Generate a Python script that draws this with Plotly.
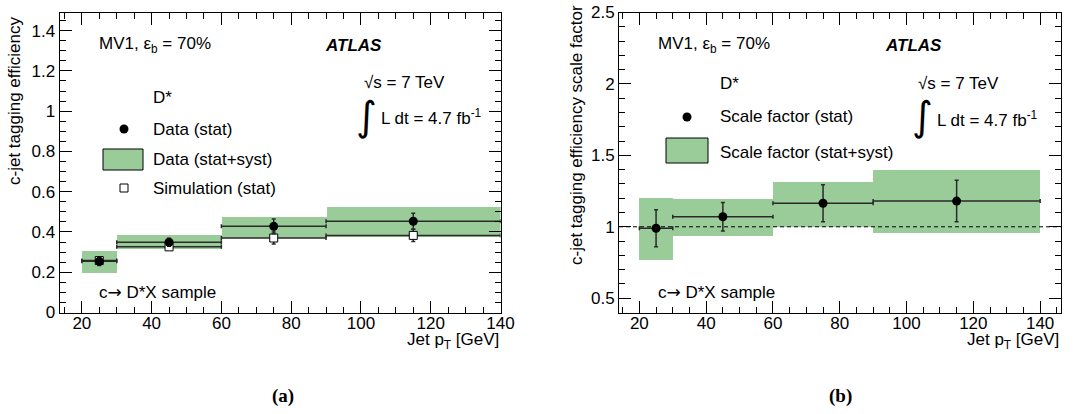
import plotly.graph_objects as go

# bin edges (jet pT, GeV)
bin_lo = [20, 30, 60, 90]
bin_hi = [30, 60, 90, 140]

# (a) c-jet tagging efficiency
eff_data = [0.254, 0.349, 0.428, 0.453]
eff_data_stat = [0.020, 0.020, 0.037, 0.040]
eff_data_tot_lo = [0.200, 0.317, 0.375, 0.378]
eff_data_tot_hi = [0.307, 0.387, 0.478, 0.528]
eff_mc = [0.258, 0.326, 0.370, 0.383]
eff_mc_stat = [0.010, 0.010, 0.030, 0.030]

# (b) scale factor
sf = [0.990, 1.070, 1.165, 1.180]
sf_stat = [0.130, 0.100, 0.130, 0.145]
sf_tot_lo = [0.774, 0.937, 1.003, 0.958]
sf_tot_hi = [1.206, 1.196, 1.320, 1.400]

W, H = 1086, 414
GREEN = "#99cc99"
ERRC = "#2a2a2a"
FONT = "Liberation Sans"
ARROW = "c<span style='font-family:DejaVu Sans'>→</span> D*X sample"


def fx(p):
    return p / W


def fy(p):
    return 1 - p / H


centre = [(a + b) / 2 for a, b in zip(bin_lo, bin_hi)]
width = [b - a for a, b in zip(bin_lo, bin_hi)]
half = [w / 2 for w in width]

fig = go.Figure()

# --- panel (a)
fig.add_trace(go.Bar(
    x=centre, width=width, base=eff_data_tot_lo,
    y=[h - l for h, l in zip(eff_data_tot_hi, eff_data_tot_lo)],
    marker=dict(color=GREEN, line=dict(width=0)),
    xaxis="x", yaxis="y", showlegend=False, hoverinfo="skip"))
fig.add_trace(go.Scatter(
    x=centre, y=eff_mc, mode="markers",
    marker=dict(symbol="square", size=8, color="white", line=dict(color="black", width=1)),
    error_x=dict(type="data", array=half, color=ERRC, thickness=1.5, width=2),
    error_y=dict(type="data", array=eff_mc_stat, color=ERRC, thickness=1.5, width=2),
    xaxis="x", yaxis="y", showlegend=False))
fig.add_trace(go.Scatter(
    x=centre, y=eff_data, mode="markers",
    marker=dict(symbol="circle", size=9, color="black"),
    error_x=dict(type="data", array=half, color=ERRC, thickness=1.5, width=2),
    error_y=dict(type="data", array=eff_data_stat, color=ERRC, thickness=1.5, width=2),
    xaxis="x", yaxis="y", showlegend=False))

# --- panel (b)
fig.add_trace(go.Bar(
    x=centre, width=width, base=sf_tot_lo,
    y=[h - l for h, l in zip(sf_tot_hi, sf_tot_lo)],
    marker=dict(color=GREEN, line=dict(width=0)),
    xaxis="x2", yaxis="y2", showlegend=False, hoverinfo="skip"))
fig.add_trace(go.Scatter(
    x=centre, y=sf, mode="markers",
    marker=dict(symbol="circle", size=9, color="black"),
    error_x=dict(type="data", array=half, color=ERRC, thickness=1.5, width=2),
    error_y=dict(type="data", array=sf_stat, color=ERRC, thickness=1.5, width=2),
    xaxis="x2", yaxis="y2", showlegend=False))


def axis(dom, rng, dtick, minor, anchor):
    return dict(
        domain=dom, range=rng, anchor=anchor, dtick=dtick, automargin=False,
        showline=True, linecolor="black", linewidth=1, mirror="allticks",
        ticks="inside", ticklen=12, tickwidth=1, tickcolor="black",
        showgrid=False, zeroline=False,
        tickfont=dict(family=FONT, size=17, color="black"),
        minor=dict(ticks="inside", ticklen=6, tickwidth=1, tickcolor="black",
                   dtick=minor, showgrid=False),
    )


ydom = [fy(312.5), fy(12.5)]
fig.update_layout(
    width=W, height=H,
    margin=dict(l=0, r=0, t=0, b=0, autoexpand=False),
    paper_bgcolor="white", plot_bgcolor="white",
    bargap=0,
    xaxis=axis([fx(59.5), fx(500.5)], [13.6, 140], 20, 5, "y"),
    yaxis=axis(ydom, [0, 1.49], 0.2, 0.05, "x"),
    xaxis2=axis([fx(619), fx(1060.5)], [13.9, 146.1], 20, 5, "y2"),
    yaxis2=axis(ydom, [0.4, 2.5], 0.5, 0.1, "x2"),
)
fig.update_xaxes(ticklabelstandoff=-5)

shapes = [
    dict(type="line", xref="x2 domain", yref="y2", x0=0, x1=1, y0=1, y1=1,
         line=dict(color="black", width=1, dash="4px,3px")),
]

ann = []


def txt(x, y, s, size=17, xanchor="left", **kw):
    ann.append(dict(x=fx(x), y=fy(y), xref="paper", yref="paper", text=s,
                    showarrow=False, xanchor=xanchor, yanchor="middle",
                    font=dict(family=kw.pop("family", FONT), size=size, color="black"), **kw))


# panel (a) texts
txt(97, 45, "MV1, ε<sub>b</sub> = 70%")
txt(323, 45, "<b><i>ATLAS</i></b>")
txt(362, 82, "√s = 7 TeV")
txt(366, 116, "∫", size=40, xanchor="center", family="DejaVu Sans")
txt(379, 117, "L dt = 4.7 fb<sup>-1</sup>")
txt(151, 97, "D*")
txt(151, 129, "Data (stat)")
txt(151, 160, "Data (stat+syst)")
txt(151, 188, "Simulation (stat)")
txt(97, 292, ARROW)
txt(500.5, 341, "Jet p<sub>T</sub> [GeV]", xanchor="right")
txt(270, 396, "<b>(a)</b>", size=19, family="Liberation Serif")
ann.append(dict(x=fx(15), y=fy(101), xref="paper", yref="paper", text="c-jet tagging efficiency",
                textangle=-90, showarrow=False, xanchor="center", yanchor="middle",
                font=dict(family=FONT, size=17, color="black")))

shapes += [
    dict(type="circle", xref="paper", yref="paper", x0=fx(119.5), x1=fx(128.5),
         y0=fy(133.5), y1=fy(124.5), fillcolor="black", line=dict(color="black", width=0)),
    dict(type="rect", xref="paper", yref="paper", x0=fx(103), x1=fx(143),
         y0=fy(170), y1=fy(149), fillcolor=GREEN, line=dict(color="black", width=1)),
    dict(type="rect", xref="paper", yref="paper", x0=fx(120), x1=fx(128),
         y0=fy(192), y1=fy(184), fillcolor="white", line=dict(color="black", width=1)),
]

# panel (b) texts
txt(656, 45, "MV1, ε<sub>b</sub> = 70%")
txt(883, 45, "<b><i>ATLAS</i></b>")
txt(916, 83, "√s = 7 TeV")
txt(922, 116, "∫", size=40, xanchor="center", family="DejaVu Sans")
txt(935, 119, "L dt = 4.7 fb<sup>-1</sup>")
txt(718, 83, "D*")
txt(718, 117, "Scale factor (stat)")
txt(718, 152, "Scale factor (stat+syst)")
txt(656, 292, ARROW)
txt(1060.5, 341, "Jet p<sub>T</sub> [GeV]", xanchor="right")
txt(827, 396, "<b>(b)</b>", size=19, family="Liberation Serif")
ann.append(dict(x=fx(576), y=fy(135), xref="paper", yref="paper",
                text="c-jet tagging efficiency scale factor",
                textangle=-90, showarrow=False, xanchor="center", yanchor="middle",
                font=dict(family=FONT, size=17, color="black")))

shapes += [
    dict(type="circle", xref="paper", yref="paper", x0=fx(682.5), x1=fx(691.5),
         y0=fy(121.5), y1=fy(112.5), fillcolor="black", line=dict(color="black", width=0)),
    dict(type="rect", xref="paper", yref="paper", x0=fx(666), x1=fx(708),
         y0=fy(163), y1=fy(138), fillcolor=GREEN, line=dict(color="black", width=1)),
]

fig.update_layout(annotations=ann, shapes=shapes)

# the page's default body margin would shift the figure by 8px
fig.write_html("out.html", config={"displayModeBar": False},
               post_script="document.body.style.margin='0';")
